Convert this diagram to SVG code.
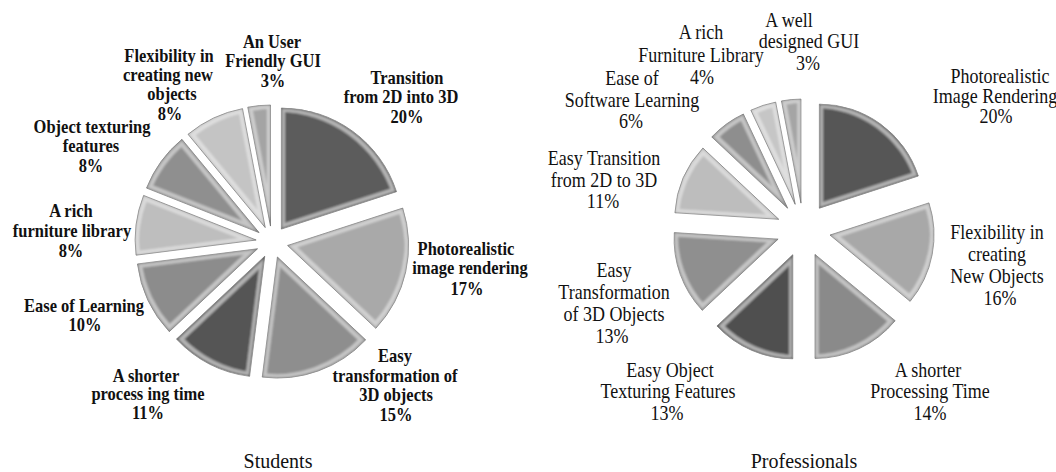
<svg xmlns="http://www.w3.org/2000/svg" width="1056" height="472" viewBox="0 0 1056 472">
<defs>
<filter id="bevel" x="-5%" y="-5%" width="110%" height="110%">
<feMorphology in="SourceAlpha" operator="erode" radius="1" result="e1"/>
<feMorphology in="SourceAlpha" operator="erode" radius="3.5" result="e2"/>
<feComposite in="e1" in2="e2" operator="out" result="rim"/>
<feGaussianBlur in="rim" stdDeviation="0.9" result="rimb"/>
<feFlood flood-color="#ffffff" flood-opacity="0.4"/>
<feComposite in2="rimb" operator="in" result="hl"/>
<feMerge><feMergeNode in="SourceGraphic"/><feMergeNode in="hl"/></feMerge>
</filter>
</defs>
<style>
.s{stroke:#707070;stroke-width:0.8;filter:url(#bevel)}
.lb{font-family:"Liberation Serif","Times New Roman",serif;font-weight:bold;font-size:16.5px;text-anchor:middle;fill:#111}
.lr{font-family:"Liberation Serif","Times New Roman",serif;font-weight:normal;font-size:18px;text-anchor:middle;fill:#111}
.t{font-family:"Liberation Serif","Times New Roman",serif;font-size:20px;text-anchor:middle;fill:#111}
</style>
<rect width="1056" height="472" fill="#ffffff"/>

<g id="students-pie">
<g id="s-transition"><path class="s" fill="#5b5b5b" d="M281.40,229.06 L281.40,108.06 A121,121 0 0 1 396.48,191.67 Z"/>
<text class="lb" transform="matrix(1,0,0,1.15,407,84)">Transition</text>
<text class="lb" transform="matrix(1,0,0,1.15,401,103)">from 2D into 3D</text>
<text class="lb" transform="matrix(1,0,0,1.15,407,123)">20%</text></g>
<g id="s-photo"><path class="s" fill="#a9a9a9" d="M287.61,245.49 L402.69,208.10 A121,121 0 0 1 375.82,328.31 Z"/>
<text class="lb" transform="matrix(1,0,0,1.15,466,255)">Photorealistic</text>
<text class="lb" transform="matrix(1,0,0,1.15,470,274)">image rendering</text>
<text class="lb" transform="matrix(1,0,0,1.15,467,295)">17%</text></g>
<g id="s-transform"><path class="s" fill="#8e8e8e" d="M277.42,257.05 L365.63,339.87 A121,121 0 0 1 262.26,377.09 Z"/>
<text class="lb" transform="matrix(1,0,0,1.15,395,362)">Easy</text>
<text class="lb" transform="matrix(1,0,0,1.15,395,382)">transformation of</text>
<text class="lb" transform="matrix(1,0,0,1.15,396,401)">3D objects</text>
<text class="lb" transform="matrix(1,0,0,1.15,396,421)">15%</text></g>
<g id="s-shorter"><path class="s" fill="#545454" d="M264.74,256.26 L249.58,376.30 A121,121 0 0 1 176.53,339.08 Z"/>
<text class="lb" transform="matrix(1,0,0,1.15,146,382)">A shorter</text>
<text class="lb" transform="matrix(1,0,0,1.15,148,400)">process ing time</text>
<text class="lb" transform="matrix(1,0,0,1.15,148,419)">11%</text></g>
<g id="s-learning"><path class="s" fill="#8c8c8c" d="M257.52,248.81 L169.31,331.63 A121,121 0 0 1 137.48,263.97 Z"/>
<text class="lb" transform="matrix(1,0,0,1.15,84,312)">Ease of Learning</text>
<text class="lb" transform="matrix(1,0,0,1.15,85,331)">10%</text></g>
<g id="s-furniture"><path class="s" fill="#bebebe" d="M256.13,240.00 L136.09,255.16 A121,121 0 0 1 143.62,195.46 Z"/>
<text class="lb" transform="matrix(1,0,0,1.15,71,217)">A rich</text>
<text class="lb" transform="matrix(1,0,0,1.15,72,237)">furniture library</text>
<text class="lb" transform="matrix(1,0,0,1.15,71,257)">8%</text></g>
<g id="s-texturing"><path class="s" fill="#8f8f8f" d="M259.06,232.60 L146.55,188.06 A121,121 0 0 1 181.93,139.37 Z"/>
<text class="lb" transform="matrix(1,0,0,1.15,92,133)">Object texturing</text>
<text class="lb" transform="matrix(1,0,0,1.15,91,152)">features</text>
<text class="lb" transform="matrix(1,0,0,1.15,91,172)">8%</text></g>
<g id="s-flexibility"><path class="s" fill="#c4c4c4" d="M265.19,227.52 L188.06,134.29 A121,121 0 0 1 242.51,108.66 Z"/>
<text class="lb" transform="matrix(1,0,0,1.15,169,62)">Flexibility in</text>
<text class="lb" transform="matrix(1,0,0,1.15,168,81)">creating new</text>
<text class="lb" transform="matrix(1,0,0,1.15,172,100)">objects</text>
<text class="lb" transform="matrix(1,0,0,1.15,170,120)">8%</text></g>
<g id="s-gui"><path class="s" fill="#a4a4a4" d="M270.49,226.07 L247.81,107.21 A121,121 0 0 1 270.49,105.07 Z"/>
<text class="lb" transform="matrix(1,0,0,1.15,272,48)">An User</text>
<text class="lb" transform="matrix(1,0,0,1.15,273,67)">Friendly GUI</text>
<text class="lb" transform="matrix(1,0,0,1.15,273,87)">3%</text></g>
<text id="students-title" class="t" transform="matrix(1,0,0,1.1,278,468)">Students</text>
</g>

<g id="professionals-pie">
<g id="p-photo"><path class="s" fill="#565656" d="M819.37,208.16 L819.37,104.16 A104,104 0 0 1 918.28,176.02 Z"/>
<text class="lr" transform="matrix(1,0,0,1.12,1000,83)">Photorealistic</text>
<text class="lr" transform="matrix(1,0,0,1.12,995,103)">Image Rendering</text>
<text class="lr" transform="matrix(1,0,0,1.12,996,123)">20%</text></g>
<g id="p-flexibility"><path class="s" fill="#a8a8a8" d="M830.02,235.06 L928.93,202.92 A104,104 0 0 1 910.15,301.35 Z"/>
<text class="lr" transform="matrix(1,0,0,1.12,997,239)">Flexibility in</text>
<text class="lr" transform="matrix(1,0,0,1.12,997,261)">creating</text>
<text class="lr" transform="matrix(1,0,0,1.12,997,283)">New Objects</text>
<text class="lr" transform="matrix(1,0,0,1.12,1000,305)">16%</text></g>
<g id="p-shorter"><path class="s" fill="#8a8a8a" d="M815.00,254.43 L895.13,320.72 A104,104 0 0 1 815.00,358.43 Z"/>
<text class="lr" transform="matrix(1,0,0,1.12,928,377)">A shorter</text>
<text class="lr" transform="matrix(1,0,0,1.12,930,398)">Processing Time</text>
<text class="lr" transform="matrix(1,0,0,1.12,930,420)">14%</text></g>
<g id="p-texturing"><path class="s" fill="#505050" d="M792.78,254.78 L792.78,358.78 A104,104 0 0 1 716.96,325.97 Z"/>
<text class="lr" transform="matrix(1,0,0,1.12,670,377)">Easy Object</text>
<text class="lr" transform="matrix(1,0,0,1.12,668,398)">Texturing Features</text>
<text class="lr" transform="matrix(1,0,0,1.12,667,420)">13%</text></g>
<g id="p-transform"><path class="s" fill="#8f8f8f" d="M778.10,239.14 L702.28,310.33 A104,104 0 0 1 674.31,232.61 Z"/>
<text class="lr" transform="matrix(1,0,0,1.12,614,277)">Easy</text>
<text class="lr" transform="matrix(1,0,0,1.12,614,299)">Transformation</text>
<text class="lr" transform="matrix(1,0,0,1.12,614,321)">of 3D Objects</text>
<text class="lr" transform="matrix(1,0,0,1.12,612,343)">13%</text></g>
<g id="p-transition"><path class="s" fill="#bdbdbd" d="M778.72,219.28 L674.93,212.75 A104,104 0 0 1 702.90,148.09 Z"/>
<text class="lr" transform="matrix(1,0,0,1.12,604,165)">Easy Transition</text>
<text class="lr" transform="matrix(1,0,0,1.12,604,187)">from 2D to 3D</text>
<text class="lr" transform="matrix(1,0,0,1.12,603,208)">11%</text></g>
<g id="p-learning"><path class="s" fill="#8e8e8e" d="M787.63,208.16 L711.81,136.97 A104,104 0 0 1 743.35,114.06 Z"/>
<text class="lr" transform="matrix(1,0,0,1.12,632,85)">Ease of</text>
<text class="lr" transform="matrix(1,0,0,1.12,632,107)">Software Learning</text>
<text class="lr" transform="matrix(1,0,0,1.12,631,128)">6%</text></g>
<g id="p-furniture"><path class="s" fill="#c6c6c6" d="M795.16,204.32 L750.88,110.22 A104,104 0 0 1 775.67,102.16 Z"/>
<text class="lr" transform="matrix(1,0,0,1.12,701,39)">A rich</text>
<text class="lr" transform="matrix(1,0,0,1.12,701,62)">Furniture Library</text>
<text class="lr" transform="matrix(1,0,0,1.12,702,84)">4%</text></g>
<g id="p-gui"><path class="s" fill="#a5a5a5" d="M800.96,203.12 L781.47,100.96 A104,104 0 0 1 800.96,99.12 Z"/>
<text class="lr" transform="matrix(1,0,0,1.12,789,27)">A well</text>
<text class="lr" transform="matrix(1,0,0,1.12,809,48)">designed GUI</text>
<text class="lr" transform="matrix(1,0,0,1.12,808,70)">3%</text></g>
<text id="professionals-title" class="t" transform="matrix(1,0,0,1.1,804,468)">Professionals</text>
</g>
</svg>
